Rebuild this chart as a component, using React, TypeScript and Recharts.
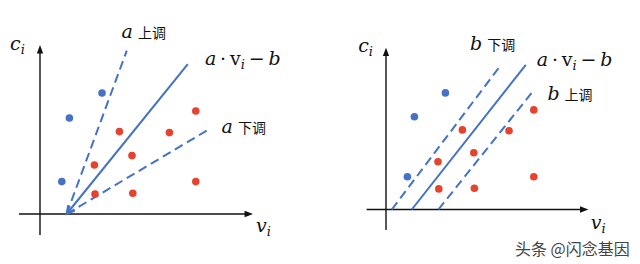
import React from 'react';
import { ScatterChart, Scatter, XAxis, YAxis, ReferenceLine, ReferenceDot } from 'recharts';

// points, in each panel's own units (axis origin at 0,0)
const leftBlue = [
    { x: 1.47, y: 4.8 },
    { x: 3.1, y: 6.05 },
    { x: 1.09, y: 1.62 },
];
const leftRed = [
    { x: 3.97, y: 4.12 },
    { x: 6.47, y: 4.07 },
    { x: 7.79, y: 5.15 },
    { x: 4.6, y: 2.92 },
    { x: 2.72, y: 2.45 },
    { x: 2.75, y: 1.0 },
    { x: 4.64, y: 1.04 },
    { x: 7.79, y: 1.62 },
];
const rightBlue = [
    { x: 1.42, y: 4.64 },
    { x: 2.97, y: 5.83 },
    { x: 1.07, y: 1.64 },
];
const rightRed = [
    { x: 3.82, y: 3.98 },
    { x: 6.15, y: 3.94 },
    { x: 7.39, y: 4.98 },
    { x: 4.39, y: 2.84 },
    { x: 2.6, y: 2.39 },
    { x: 2.64, y: 1.03 },
    { x: 4.42, y: 1.06 },
    { x: 7.39, y: 1.64 },
];

// segments: second point is where the arrow (if any) sits
const leftXAxis = [{ x: -1.05, y: 0 }, { x: 10.65, y: 0 }];
const leftYAxis = [{ x: 0, y: -1.05 }, { x: 0, y: 8.45 }];
const leftFit = [{ x: 7.39, y: 7.49 }, { x: 1.33, y: 0 }];
const leftUp = [{ x: 1.33, y: 0 }, { x: 4.34, y: 8.17 }];
const leftDown = [{ x: 1.33, y: 0 }, { x: 8.54, y: 4.29 }];

const rightXAxis = [{ x: -0.97, y: 0 }, { x: 10.12, y: 0 }];
const rightYAxis = [{ x: 0, y: -1.03 }, { x: 0, y: 8.09 }];
const rightFit = [{ x: 1.29, y: 0 }, { x: 6.99, y: 7.23 }];
const rightUpper = [{ x: 0.29, y: 0 }, { x: 5.75, y: 7.23 }];
const rightLower = [{ x: 2.62, y: 0 }, { x: 7.37, y: 5.94 }];

const BLUE = '#4472c4';
const RED = '#e5432e';
const MATH = '"DejaVu Serif", serif';
const CJK = '"Noto Sans CJK SC", sans-serif';

const Dot = (props: any) => <circle cx={props.cx} cy={props.cy} r={3.8} fill={props.fill} />;

const Segment = ({ x1, y1, x2, y2, stroke, strokeWidth, strokeDasharray, arrow }: any) => {
    const ang = Math.atan2(y2 - y1, x2 - x1);
    const pt = (len: number, off: number) => [
        x2 - len * Math.cos(ang + off),
        y2 - len * Math.sin(ang + off),
    ];
    let head = null;
    if (arrow === 'filled') {
        const a = pt(9, 0.36);
        const b = pt(9, -0.36);
        head = <polygon points={`${x2},${y2} ${a[0]},${a[1]} ${b[0]},${b[1]}`} fill={stroke} />;
    } else if (arrow === 'open') {
        const a = pt(9, 0.5);
        const b = pt(9, -0.5);
        head = <path d={`M${a[0]},${a[1]} L${x2},${y2} L${b[0]},${b[1]}`} fill="none" stroke={stroke} strokeWidth={strokeWidth} />;
    }
    const ex = arrow === 'filled' ? x2 - 6 * Math.cos(ang) : x2;
    const ey = arrow === 'filled' ? y2 - 6 * Math.sin(ang) : y2;
    return (
        <g>
            <line x1={x1} y1={y1} x2={ex} y2={ey} stroke={stroke} strokeWidth={strokeWidth} strokeDasharray={strokeDasharray} />
            {head}
        </g>
    );
};

const Tag = ({ cx, cy, children }: any) => (
    <text x={cx} y={cy} fill="#111">
        {children}
    </text>
);

const Sym = (s: string) => (
    <tspan fontFamily={MATH} fontStyle="italic" fontSize={19}>{s}</tspan>
);

const CLabel = () => (
    <>
        <tspan fontFamily={MATH} fontStyle="italic" fontSize={19}>c</tspan>
        <tspan fontFamily={MATH} fontStyle="italic" fontSize={13} dy={4}>i</tspan>
    </>
);
const VLabel = () => (
    <>
        <tspan fontFamily={MATH} fontStyle="italic" fontSize={19}>v</tspan>
        <tspan fontFamily={MATH} fontStyle="italic" fontSize={13} dy={4}>i</tspan>
    </>
);
const FitLabel = () => (
    <>
        <tspan fontFamily={MATH} fontStyle="italic" fontSize={19}>a</tspan>
        <tspan fontFamily={MATH} fontSize={19}>{'\u2009·\u2009v'}</tspan>
        <tspan fontFamily={MATH} fontStyle="italic" fontSize={13} dy={4}>i</tspan>
        <tspan fontFamily={MATH} fontSize={19} dy={-4}>{'\u2009−\u2009'}</tspan>
        <tspan fontFamily={MATH} fontStyle="italic" fontSize={19}>b</tspan>
    </>
);
const Tweak = (sym: string, word: string) => (
    <>
        {Sym(sym)}
        <tspan fontFamily={CJK} fontSize={14} dx={5}>{word}</tspan>
    </>
);

const label = (x: number, y: number, content: React.ReactNode, key: string) => (
    <ReferenceDot key={key} x={x} y={y} r={0} shape={(p: any) => <Tag {...p}>{content}</Tag>} />
);

const seg = (pts: any[], stroke: string, width: number, dash?: string, arrow?: string) => (
    <ReferenceLine
        segment={pts}
        stroke={stroke}
        strokeWidth={width}
        shape={(p: any) => <Segment {...p} stroke={stroke} strokeWidth={width} strokeDasharray={dash} arrow={arrow} />}
    />
);

const Panel: React.FC<{ xDomain: number[]; yDomain: number[]; children: React.ReactNode }> = ({ xDomain, yDomain, children }) => (
    <ScatterChart width={320} height={264} margin={{ top: 0, right: 0, bottom: 0, left: 0 }}>
        <XAxis type="number" dataKey="x" domain={xDomain} hide allowDataOverflow />
        <YAxis type="number" dataKey="y" domain={yDomain} hide allowDataOverflow />
        {children}
    </ScatterChart>
);

export default function App() {
    return (
        <div style={{ position: 'absolute', left: 0, top: 0, width: 640, height: 264, background: '#fff', display: 'flex' }}>
            <Panel xDomain={[-2, 14]} yDomain={[-2.5, 10.7]}>
                {seg(leftXAxis, '#111', 1.4, undefined, 'filled')}
                {seg(leftYAxis, '#111', 1.4, undefined, 'filled')}
                {seg(leftFit, BLUE, 2, undefined, 'open')}
                {seg(leftUp, BLUE, 2, '9 5')}
                {seg(leftDown, BLUE, 2, '9 5')}
                <Scatter data={leftBlue} fill={BLUE} shape={Dot} isAnimationActive={false} />
                <Scatter data={leftRed} fill={RED} shape={Dot} isAnimationActive={false} />
                {label(-1.5, 8.2, <CLabel />, 'c')}
                {label(4.08, 8.8, Tweak('a', '上调'), 'up')}
                {label(8.25, 7.45, <FitLabel />, 'fit')}
                {label(9.08, 4.04, Tweak('a', '下调'), 'down')}
                {label(10.8, -0.9, <VLabel />, 'v')}
            </Panel>
            <Panel xDomain={[-3.3, 12.7]} yDomain={[-2.725, 10.475]}>
                {seg(rightXAxis, '#111', 1.4, undefined, 'filled')}
                {seg(rightYAxis, '#111', 1.4, undefined, 'filled')}
                {seg(rightFit, BLUE, 2)}
                {seg(rightUpper, BLUE, 2, '9 5')}
                {seg(rightLower, BLUE, 2, '9 5')}
                <Scatter data={rightBlue} fill={BLUE} shape={Dot} isAnimationActive={false} />
                <Scatter data={rightRed} fill={RED} shape={Dot} isAnimationActive={false} />
                {label(-1.39, 7.88, <CLabel />, 'c')}
                {label(4.2, 7.98, Tweak('b', '下调'), 'down')}
                {label(7.54, 7.19, <FitLabel />, 'fit')}
                {label(8.07, 5.48, Tweak('b', '上调'), 'up')}
                {label(10.24, -0.95, <VLabel />, 'v')}
                {label(6.45, -2.25, <tspan fontFamily={CJK} fontSize={16} fill="#444">头条 @闪念基因</tspan>, 'wm')}
            </Panel>
        </div>
    );
}
